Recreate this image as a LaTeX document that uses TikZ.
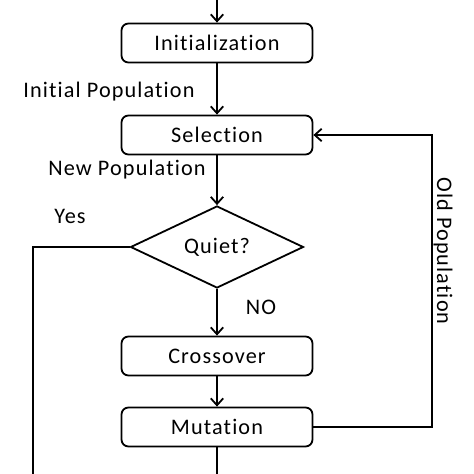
\documentclass[tikz,border=0pt]{standalone}
\usepackage{fontspec}
\setmainfont{Carlito}[LetterSpace=5, Ligatures=NoCommon]
\usetikzlibrary{arrows.meta,shapes.geometric}
\begin{document}
\begin{tikzpicture}[x=0.0253cm, y=-0.0253cm,
	stepbox/.style={draw, rounded corners=5pt, line width=1.3pt,
		minimum width=191*0.0253cm, minimum height=39*0.0253cm, font=\fontsize{16}{18}\selectfont},
	flow/.style={line width=1.3pt, -{Straight Barb[length=5pt, width=9pt, line width=1.3pt]}},
	plain/.style={line width=1.3pt},
	txt/.style={font=\fontsize{16}{18}\selectfont},
	]
	\useasboundingbox (0,0) rectangle (474,474);

	\coordinate (start) at (217,0);
	\node[stepbox] (init) at (217,43) {Initialization};
	\node[stepbox] (sel) at (217,135) {Selection};
	\node[draw, diamond, aspect=2.1, inner sep=1pt, line width=1.3pt,
		minimum width=173*0.0253cm, minimum height=82*0.0253cm,
		font=\fontsize{16}{18}\selectfont] (quiet) at (217,247) {Quiet?};
	\node[stepbox] (cross) at (217,356) {Crossover};
	\node[stepbox] (mut) at (217,427) {Mutation};
	\coordinate (endm) at (217,474);
	\coordinate (endy) at (33,474);
	\coordinate (turn) at (432,427);

	\node[txt] (lip) at (109,92) {Initial Population};
	\node[txt] (lnp) at (127,170) {New Population};
	\node[txt] (lyes) at (70,216) {Yes};
	\node[txt] (lno) at (261,307) {NO};
	\node[txt, rotate=-90] (lop) at (443,251) {Old Population};

	\draw[flow] (start) -- (init);
	\draw[flow] (init) -- (sel);
	\draw[flow] (sel) -- (quiet);
	\draw[flow] (quiet) -- (cross);
	\draw[flow] (cross) -- (mut);
	\draw[plain] (mut) -- (endm);
	\draw[plain] (quiet.west) -| (endy);
	\draw[flow] (mut.east) -- (turn) |- (sel.east);
\end{tikzpicture}
\end{document}
